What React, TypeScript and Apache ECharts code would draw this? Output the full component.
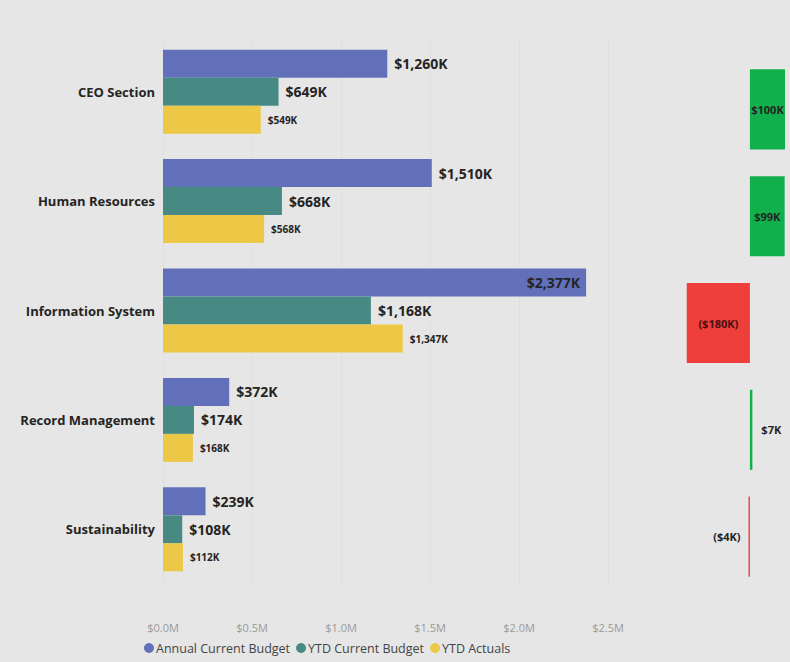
import React, { useEffect, useRef } from "react";
import * as echarts from "echarts";

const categories = ["CEO Section", "Human Resources", "Information System", "Record Management", "Sustainability"];
const annualBudget = [1260, 1510, 2377, 372, 239];
const ytdBudget = [649, 668, 1168, 174, 108];
const ytdActuals = [549, 568, 1347, 168, 112];
const variance = [100, 99, -180, 7, -4];
const xTicks = [0, 500, 1000, 1500, 2000, 2500];

const FONT = "'Open Sans', 'Noto Sans', sans-serif";
const fmtK = (v: number) => (v < 0 ? "($" + Math.abs(v).toLocaleString("en-US") + "K)" : "$" + v.toLocaleString("en-US") + "K");

export default function App() {
  const ref = useRef<HTMLDivElement>(null);
  useEffect(() => {
    if (!ref.current) return;
    const chart = echarts.init(ref.current, undefined, { renderer: "svg" });
    const bigLabel = {
      show: true,
      position: "right",
      distance: 7,
      fontFamily: FONT,
      fontWeight: "bold",
      fontSize: 14,
      color: "#252423",
      formatter: (p: any) => fmtK(p.value),
    };
    chart.setOption({
      animation: false,
      backgroundColor: "#e6e6e6",
      textStyle: { fontFamily: FONT },
      legend: {
        left: 144,
        top: 641,
        padding: 0,
        icon: "circle",
        itemWidth: 10,
        itemHeight: 10,
        itemGap: 6,
        textStyle: { fontSize: 12.5, lineHeight: 14, color: "#444", fontFamily: FONT, padding: [0, 0, 0, -3] },
        data: ["Annual Current Budget", "YTD Current Budget", "YTD Actuals"],
      },
      grid: [
        { left: 163, width: 445, top: 37, height: 547 },
        { left: 685, width: 100, top: 56, height: 534 },
      ],
      xAxis: [
        {
          gridIndex: 0,
          type: "value",
          min: xTicks[0],
          max: xTicks[xTicks.length - 1],
          interval: 500,
          axisLine: { show: false },
          axisTick: { show: false },
          splitLine: { show: true, lineStyle: { color: "#cfcfcf", type: [1, 3], width: 1 } },
          axisLabel: {
            margin: 38,
            color: "#9a9a9a",
            fontSize: 11,
            fontFamily: FONT,
            formatter: (v: number) => "$" + (v / 1000).toFixed(1) + "M",
          },
        },
        { gridIndex: 1, type: "value", min: -185, max: 100, show: false, splitLine: { show: false } },
      ],
      yAxis: [
        {
          gridIndex: 0,
          type: "category",
          data: categories,
          inverse: true,
          axisLine: { show: false },
          axisTick: { show: false },
          axisLabel: { margin: 8, color: "#252423", fontWeight: "bold", fontSize: 13, fontFamily: FONT },
        },
        { gridIndex: 1, type: "category", data: categories, inverse: true, show: false },
      ],
      series: [
        {
          name: "Annual Current Budget",
          type: "bar",
          xAxisIndex: 0,
          yAxisIndex: 0,
          barWidth: 28,
          barGap: "0%",
          itemStyle: { color: "#6270ba" },
          label: bigLabel,
          data: annualBudget.map((v) => (v > 2300 ? { value: v, label: { position: "insideRight", distance: 6 } } : v)),
        },
        {
          name: "YTD Current Budget",
          type: "bar",
          xAxisIndex: 0,
          yAxisIndex: 0,
          barWidth: 28,
          barGap: "0%",
          itemStyle: { color: "#478a83" },
          label: bigLabel,
          data: ytdBudget,
        },
        {
          name: "YTD Actuals",
          type: "bar",
          xAxisIndex: 0,
          yAxisIndex: 0,
          barWidth: 28,
          barGap: "0%",
          itemStyle: { color: "#edc846" },
          label: { ...bigLabel, fontSize: 10 },
          data: ytdActuals,
        },
        {
          name: "Variance",
          type: "bar",
          xAxisIndex: 1,
          yAxisIndex: 1,
          barWidth: "75%",
          data: variance.map((v) => {
            const small = Math.abs(v) < 20;
            return {
              value: v,
              itemStyle: { color: v >= 0 ? "#12b04c" : "#ef3f3b" },
              label: {
                show: true,
                position: small ? (v >= 0 ? "right" : "left") : "inside",
                distance: small ? (v >= 0 ? 9 : 8) : 5,
                fontFamily: FONT,
                fontWeight: "bold",
                fontSize: 11,
                color: v < 0 && !small ? "#4a1010" : "#252423",
                formatter: (p: any) => fmtK(p.value),
              },
            };
          }),
        },
      ],
    });
    return () => chart.dispose();
  }, []);
  return (
    <div
      ref={ref}
      style={{ position: "absolute", left: 0, top: 0, width: 790, height: 662, background: "#e6e6e6" }}
    />
  );
}
